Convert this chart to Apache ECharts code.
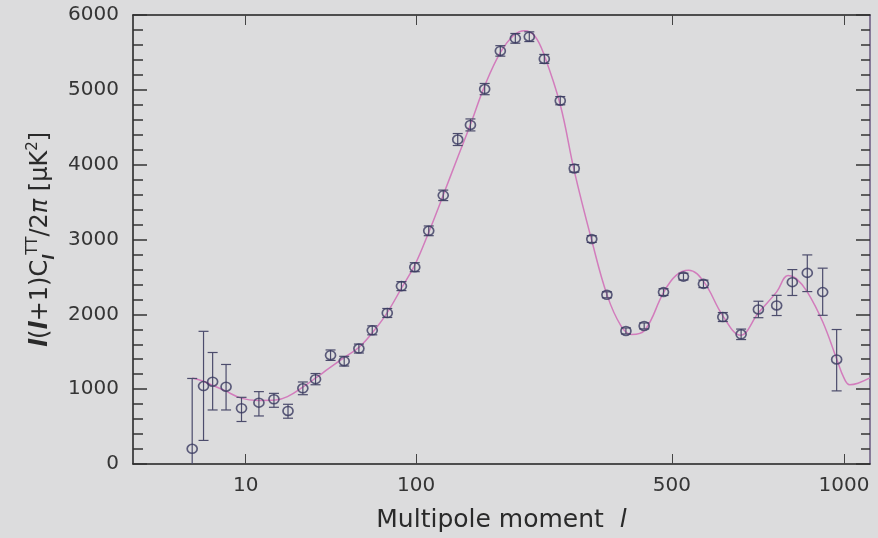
<!DOCTYPE html>
<html>
<head>
<meta charset="utf-8">
<title>CMB power spectrum</title>
<script src="https://cdn.jsdelivr.net/npm/echarts@6/dist/echarts.min.js"></script>
<style>
  html, body { margin: 0; padding: 0; background: #dcdcdd; }
  #chart { width: 878px; height: 538px; }
</style>
</head>
<body>
<div id="chart"></div>
<script>
// measured band powers (multipole, value, error up, error down)
var ell = [2, 3.1, 4.2, 6.2, 9.1, 13.2, 17.5, 22.2, 27.9, 33.4, 40.7, 48.1, 56.9, 65.7, 76.5, 87.6, 98.9, 111.6, 125.8, 141,
  155.2, 172.1, 191.9, 212.1, 232, 254.6, 280, 303.5, 334.5, 362.8, 400.3, 438.4, 481, 527.5, 576.7, 626.9, 676.7, 725.8, 780, 828.3,
  876.1, 926.9, 974.6];
var power = [203, 1041, 1100, 1033, 745, 820, 865, 709, 1011, 1134, 1454, 1374, 1543, 1786, 2018, 2377, 2630, 3116, 3590, 4336,
  4531, 5010, 5520, 5688, 5710, 5413, 4855, 3950, 3006, 2261, 1778, 1845, 2297, 2504, 2407, 1964, 1733, 2065, 2119, 2430,
  2554, 2297, 1397];
var errUp = [940, 732, 390, 297, 146, 147, 79, 89, 85, 75, 70, 65, 60, 60, 60, 60, 60, 65, 70, 80,
  80, 75, 70, 65, 65, 60, 55, 50, 45, 40, 40, 40, 45, 45, 50, 60, 70, 110, 135, 168,
  240, 320, 400];
var errDown = [800, 726, 378, 311, 177, 178, 107, 97, 85, 75, 70, 65, 60, 60, 60, 60, 60, 65, 70, 80,
  80, 75, 70, 65, 65, 60, 55, 50, 45, 40, 40, 40, 45, 45, 50, 60, 70, 110, 135, 178,
  250, 310, 420];

// best fit model curve
var curveEll = [2, 3, 4, 6, 9, 13, 18, 22, 28, 34, 40, 48, 57, 66, 76, 88, 99, 112, 126, 141,
  155, 172, 192, 210, 225, 240, 255, 280, 304, 334, 363, 390, 412, 440, 481, 510, 540, 577, 627, 675,
  726, 780, 815, 840, 876, 927, 975, 1000, 1020, 1050, 1094];
var curveVal = [1150, 1110, 1060, 980, 880, 850, 855, 900, 1030, 1160, 1280, 1420, 1560, 1760, 2010, 2360, 2660, 3110, 3600, 4100,
  4530, 5050, 5500, 5730, 5790, 5720, 5450, 4800, 3900, 3000, 2260, 1850, 1730, 1790, 2290, 2520, 2590, 2440, 1980, 1720,
  2020, 2300, 2520, 2480, 2300, 1900, 1400, 1150, 1060, 1080, 1150];

var xTicks = [10, 100, 500, 1000];

// the x axis of the original plot is stretched like l^0.4
var P = 0.4;
function toX(l) { return Math.pow(l, P); }
function fromX(v) { return Math.pow(v, 1 / P); }

var font = 'DejaVu Sans';
var textColor = '#353535';
var axisColor = '#1e1e1e';

var points = [], bars = [], curve = [];
for (var i = 0; i < ell.length; i++) {
  points.push([toX(ell[i]), power[i]]);
  bars.push([toX(ell[i]), power[i] + errUp[i], power[i] - errDown[i]]);
}
for (var j = 0; j < curveEll.length; j++) {
  curve.push([toX(curveEll[j]), curveVal[j]]);
}
var tickPos = xTicks.map(toX);

var chart = echarts.init(document.getElementById('chart'));

var option = {
  backgroundColor: '#dcdcdd',
  animation: false,
  grid: { left: 133, right: 8, top: 15, bottom: 72 },
  xAxis: [
    {
      type: 'value',
      min: 0,
      max: 16.43,
      position: 'bottom',
      splitLine: { show: false },
      axisLine: { onZero: false, lineStyle: { color: axisColor, width: 1.5 } },
      axisTick: { inside: true, length: 10, customValues: tickPos, lineStyle: { color: '#444' } },
      axisLabel: {
        customValues: tickPos,
        margin: 12,
        color: textColor,
        fontFamily: font,
        fontSize: 20,
        formatter: function (v) { return String(Math.round(fromX(v))); }
      },
      name: '{n|Multipole moment  }{i|l}',
      nameLocation: 'middle',
      nameGap: 44,
      nameTextStyle: {
        rich: {
          n: { fontFamily: font, fontSize: 25, color: '#2a2a2a' },
          i: { fontFamily: font, fontSize: 25, fontStyle: 'italic', color: '#2a2a2a' }
        }
      }
    },
    {
      type: 'value',
      min: 0,
      max: 16.43,
      position: 'top',
      splitLine: { show: false },
      axisLine: { onZero: false, lineStyle: { color: axisColor, width: 1.5 } },
      axisTick: { inside: true, length: 10, customValues: tickPos, lineStyle: { color: '#444' } },
      axisLabel: { show: false }
    }
  ],
  yAxis: [
    {
      type: 'value',
      min: 0,
      max: 6000,
      interval: 1000,
      position: 'left',
      splitLine: { show: false },
      axisLine: { show: true, onZero: false, lineStyle: { color: axisColor, width: 1.5 } },
      axisTick: { inside: true, length: 14, lineStyle: { color: '#333', width: 1.5 } },
      minorTick: { show: true, splitNumber: 5, length: 10, lineStyle: { color: '#333', width: 1.5 } },
      axisLabel: {
        margin: 14,
        color: textColor,
        fontFamily: font,
        fontSize: 20,
        formatter: function (v) { return String(v); }
      },
      name: '{i|l}({i|l}+1)C{sub|l}{sup|TT}/2{p|π} [μK{sup|2}]',
      nameLocation: 'middle',
      nameRotate: 90,
      nameGap: 60,
      nameTextStyle: {
        fontFamily: font,
        fontSize: 24,
        color: '#2a2a2a',
        rich: {
          i: { fontFamily: font, fontSize: 24, fontStyle: 'italic', fontWeight: 'bold', color: '#2a2a2a' },
          p: { fontFamily: font, fontSize: 24, fontStyle: 'italic', color: '#2a2a2a' },
          sub: { fontFamily: font, fontSize: 15, fontStyle: 'italic', fontWeight: 'bold', color: '#2a2a2a', verticalAlign: 'bottom', lineHeight: 32 },
          sup: { fontFamily: font, fontSize: 15, color: '#2a2a2a', verticalAlign: 'top', lineHeight: 32 }
        }
      }
    },
    {
      type: 'value',
      min: 0,
      max: 6000,
      interval: 1000,
      position: 'right',
      splitLine: { show: false },
      axisLine: { show: true, onZero: false, lineStyle: { color: '#6a5a80', width: 1.5 } },
      axisTick: { inside: true, length: 14, lineStyle: { color: '#333', width: 1.5 } },
      minorTick: { show: true, splitNumber: 5, length: 9, lineStyle: { color: '#333', width: 1.5 } },
      axisLabel: { show: false }
    }
  ],
  series: [
    {
      name: 'model',
      type: 'line',
      data: curve,
      smooth: 0.4,
      symbol: 'none',
      lineStyle: { color: '#d27cbc', width: 1.5 },
      z: 2
    },
    {
      name: 'errors',
      type: 'custom',
      data: bars,
      encode: { x: 0, y: [1, 2] },
      clip: true,
      renderItem: function (params, api) {
        var x = api.value(0);
        var top = api.coord([x, api.value(1)]);
        var bot = api.coord([x, api.value(2)]);
        var w = 5;
        var style = { stroke: '#4c4c6c', lineWidth: 1.2 };
        return {
          type: 'group',
          children: [
            { type: 'line', shape: { x1: top[0], y1: top[1], x2: bot[0], y2: bot[1] }, style: style },
            { type: 'line', shape: { x1: top[0] - w, y1: top[1], x2: top[0] + w, y2: top[1] }, style: style },
            { type: 'line', shape: { x1: bot[0] - w, y1: bot[1], x2: bot[0] + w, y2: bot[1] }, style: style }
          ]
        };
      },
      z: 3
    },
    {
      name: 'data',
      type: 'scatter',
      data: points,
      symbol: 'circle',
      symbolSize: [10, 9],
      itemStyle: { color: 'rgba(0,0,0,0)', borderColor: '#3a3a60', borderWidth: 1.6 },
      z: 4
    }
  ]
};

chart.setOption(option);
</script>
</body>
</html>
